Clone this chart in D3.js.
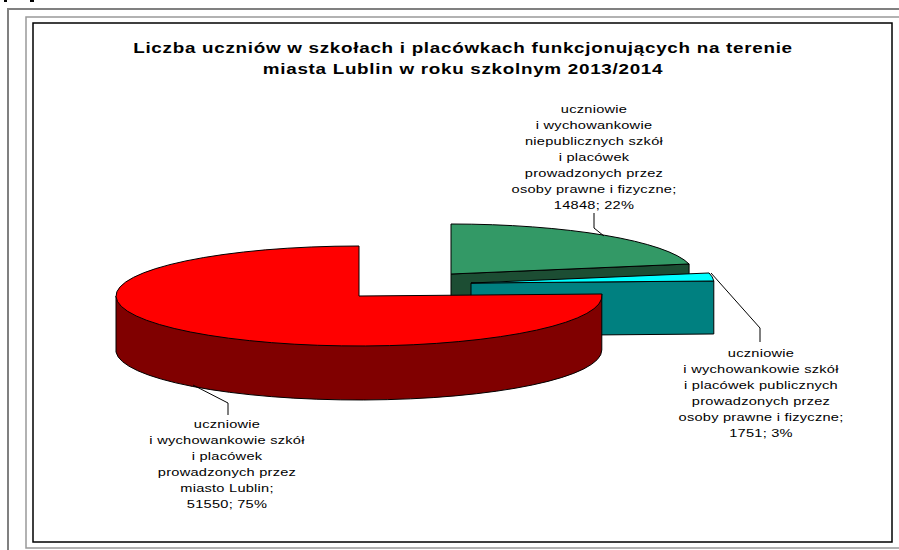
<!DOCTYPE html>
<html>
<head>
<meta charset="utf-8">
<script src="https://cdnjs.cloudflare.com/ajax/libs/d3/7.8.5/d3.min.js"></script>
<style>
  html, body { margin: 0; padding: 0; background: #fff; overflow: hidden; }
  text { font-family: "Liberation Sans", Arial, sans-serif; fill: #000; }
</style>
</head>
<body>
<div id="chart"></div>
<script>
/** Data */
var titleLines = [
  "Liczba uczniów w szkołach i placówkach funkcjonujących na terenie",
  "miasta Lublin w roku szkolnym 2013/2014"
];
var sliceNames = ["niepubliczne", "publiczne", "miasto"];
var sliceValues = [14848, 1751, 51550];
var sliceLabels = [
  ["uczniowie", "i wychowankowie", "niepublicznych szkół", "i placówek", "prowadzonych przez", "osoby prawne i fizyczne;", "14848; 22%"],
  ["uczniowie", "i wychowankowie szkół", "i placówek publicznych", "prowadzonych przez", "osoby prawne i fizyczne;", "1751; 3%"],
  ["uczniowie", "i wychowankowie szkół", "i placówek", "prowadzonych przez", "miasto Lublin;", "51550; 75%"]
];

/** Layout */
var width = 899;
var height = 550;
var rx = 243;
var ry = 50;
var textStretch = 1.27; // the scan is wider than it is tall
var titleStretch = 1.3;

var layout = {
  niepubliczne: {cx: 451, cy: 274, depth: 55, top: "#339966", side: "#1c4d33", labelX: 594, labelY: 113, leader: [[594, 213], [594, 228], [604, 236]]},
  publiczne: {cx: 471, cy: 283, depth: 53, top: "#00ffff", side: "#008080", labelX: 761, labelY: 357, leader: [[711, 273], [760, 328], [760, 342]]},
  miasto: {cx: 359, cy: 296, depth: 56, top: "#ff0000", side: "#800000", labelX: 227, labelY: 428, leader: [[193, 385], [228, 403], [228, 415]]}
};

var svg = d3.select("#chart").append("svg")
  .attr("width", width)
  .attr("height", height);

// frames of the scanned page
svg.append("path").attr("fill", "none").attr("stroke", "#808080").attr("stroke-width", 2)
  .attr("d", "M8,550V9H899");
svg.append("path").attr("fill", "none").attr("stroke", "#999").attr("stroke-width", 1.5)
  .attr("d", "M899,17H26V548H899");
svg.append("rect")
  .attr("x", 33).attr("y", 23).attr("width", 859).attr("height", 519)
  .attr("fill", "#fff").attr("stroke", "#000").attr("stroke-width", 1.5);

// two cut off specks at the very top edge
svg.append("path").attr("fill", "none").attr("stroke", "#000").attr("stroke-width", 2)
  .attr("d", "M4,1H7M30,1H34");

svg.selectAll(".title")
  .data(titleLines)
  .enter()
  .append("text")
    .attr("class", "title")
    .attr("transform", function(d, i) {
      return "translate(463," + (53 + i*20.5) + ") scale(" + titleStretch + ",1)";
    })
    .attr("text-anchor", "middle")
    .attr("font-size", 14.5)
    .attr("font-weight", "bold")
    .attr("letter-spacing", 0.55)
    .text(function(d) { return d; });

// d3.pie gives the angles, clockwise from twelve o'clock
var pie = d3.pie().sort(null);
var slices = pie(sliceValues);

var projX = d3.scaleLinear().domain([-1, 1]).range([-rx, rx]);
var projY = d3.scaleLinear().domain([-1, 1]).range([ry, -ry]);

function rim(a, p) {
  return [p.cx + projX(Math.sin(a)), p.cy + projY(Math.cos(a))];
}

function topPath(s, p) {
  var a = rim(s.startAngle, p);
  var b = rim(s.endAngle, p);
  var large = s.endAngle - s.startAngle > Math.PI ? 1 : 0;
  return "M" + p.cx + "," + p.cy + "L" + a + "A" + rx + "," + ry + " 0 " + large + " 1 " + b + "Z";
}

// flat face left by the cut at the end of a slice
function cutPath(s, p) {
  var a = rim(s.endAngle, p);
  return "M" + p.cx + "," + p.cy + "L" + a + "V" + (a[1] + p.depth) + "L" + p.cx + "," + (p.cy + p.depth) + "Z";
}

// round wall at the front of the big slice
function wallPath(s, p) {
  var a = rim(s.startAngle, p);
  var b = rim(Math.PI*1.5, p);
  return "M" + a + "A" + rx + "," + ry + " 0 0 1 " + b +
    "V" + (b[1] + p.depth) +
    "A" + rx + "," + ry + " 0 0 0 " + a[0] + "," + (a[1] + p.depth) + "Z";
}

var chart = svg.append("g").attr("stroke", "#000").attr("stroke-width", 1).attr("stroke-linejoin", "round");

// back to front: green, cyan, red
slices.forEach(function(s, i) {
  var name = sliceNames[i];
  var p = layout[name];
  if (name === "miasto") {
    chart.append("path").attr("d", wallPath(s, p)).attr("fill", p.side);
  } else {
    chart.append("path").attr("d", cutPath(s, p)).attr("fill", p.side);
  }
  chart.append("path").attr("d", topPath(s, p)).attr("fill", p.top);
});

var line = d3.line();

sliceNames.forEach(function(name, i) {
  var p = layout[name];

  svg.append("path")
    .attr("d", line(p.leader))
    .attr("fill", "none")
    .attr("stroke", "#000")
    .attr("stroke-width", 1);

  svg.selectAll(".label-" + i)
    .data(sliceLabels[i])
    .enter()
    .append("text")
      .attr("class", "label-" + i)
      .attr("transform", function(d, j) {
        return "translate(" + p.labelX + "," + (p.labelY + j*16) + ") scale(" + textStretch + ",1)";
      })
      .attr("text-anchor", "middle")
      .attr("font-size", 11.5)
      .attr("letter-spacing", 0.2)
      .text(function(d) { return d; });
});
</script>
</body>
</html>
